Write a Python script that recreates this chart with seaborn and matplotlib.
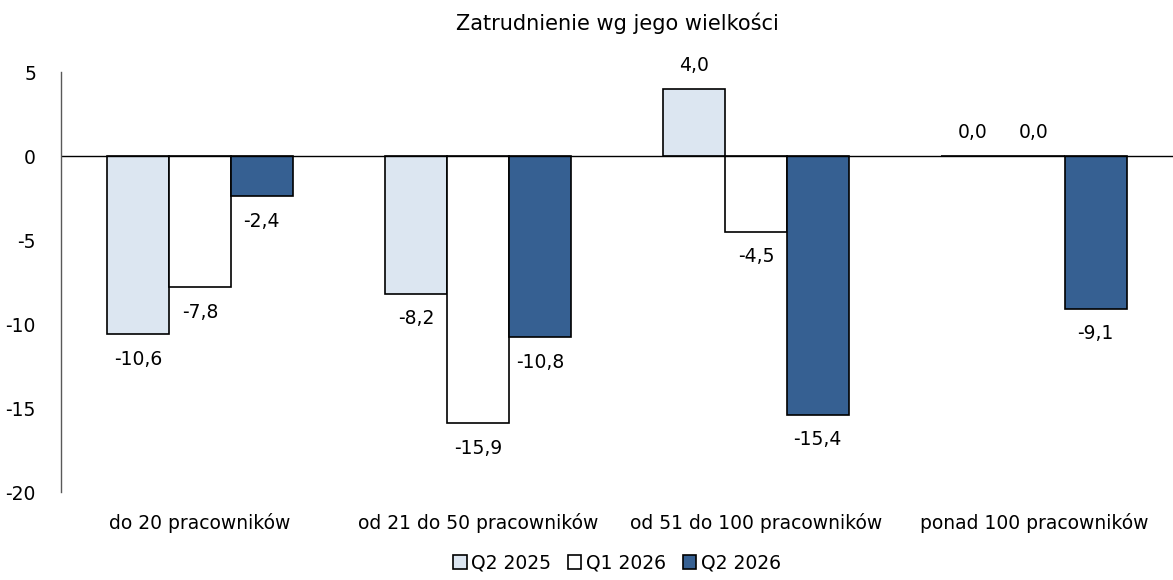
import pandas as pd
import numpy as np
import seaborn as sns
import matplotlib.pyplot as plt
from matplotlib.patches import Patch

categories = ["do 20 pracowników", "od 21 do 50 pracowników",
              "od 51 do 100 pracowników", "ponad 100 pracowników"]
series = ["Q2 2025", "Q1 2026", "Q2 2026"]
q2_2025 = [-10.6, -8.2, 4.0, 0.0]
q1_2026 = [-7.8, -15.9, -4.5, 0.0]
q2_2026 = [-2.4, -10.8, -15.4, -9.1]
colors = ["#DCE6F1", "#FFFFFF", "#366092"]
yticks = [5, 0, -5, -10, -15, -20]

df = pd.DataFrame({
    "kategoria": categories * 3,
    "seria": np.repeat(series, len(categories)),
    "wartosc": q2_2025 + q1_2026 + q2_2026,
})

sns.set_style("white")
plt.rcParams['font.family'] = ['DejaVu Sans']
plt.rcParams['font.size'] = 12
plt.rcParams['text.color'] = 'black'
plt.rcParams['xtick.color'] = 'black'
plt.rcParams['ytick.color'] = 'black'

fig = plt.figure(figsize=(11.73, 5.8), dpi=100)
ax = fig.add_axes([61 / 1173, 1 - 492 / 580, 1 - 61 / 1173, 420 / 580])

sns.barplot(data=df, x="kategoria", y="wartosc", hue="seria", order=categories,
            hue_order=series, palette=colors, saturation=1, width=0.667, gap=0,
            edgecolor="black", linewidth=1.2, legend=False, ax=ax)

# value labels under negative bars, above positive / zero ones
for cont in ax.containers:
    for bar in cont:
        h = bar.get_height()
        val = bar.get_y() + h if bar.get_y() == 0 else bar.get_y()
        off = -25 if val < 0 else 23
        ax.annotate(f"{val:.1f}".replace(".", ","), (bar.get_x() + bar.get_width() / 2, val),
                    xytext=(0, off), textcoords="offset pixels", ha="center", va="center",
                    fontsize=13.5, color="black")

ax.axhline(0, color="black", lw=1)
ax.set_xlim(-0.5, 3.5)
ax.set_ylim(-20, 5)
ax.set_yticks(yticks)
ax.set_yticklabels([str(t) for t in yticks])
ax.tick_params(axis="y", length=0, pad=18, labelsize=13.5, labelcolor="black")
ax.tick_params(axis="x", length=0, pad=15, labelsize=13.5, labelcolor="black")
for s in ["top", "right", "bottom"]:
    ax.spines[s].set_visible(False)
ax.spines["left"].set_color("#595959")
ax.spines["left"].set_linewidth(1)
ax.set_xlabel("")
ax.set_ylabel("")
ax.set_title("Zatrudnienie wg jego wielkości", fontsize=15, pad=30, color="black")

handles = [Patch(facecolor=c, edgecolor="black", linewidth=1.2) for c in colors]
fig.legend(handles, series, loc="center", bbox_to_anchor=(617 / 1173, 1 - 563 / 580),
           ncol=3, frameon=False, handlelength=0.7, handleheight=0.7,
           handletextpad=0.25, columnspacing=0.9, fontsize=13.5, labelcolor="black")

fig.savefig("out.png", dpi=100)
